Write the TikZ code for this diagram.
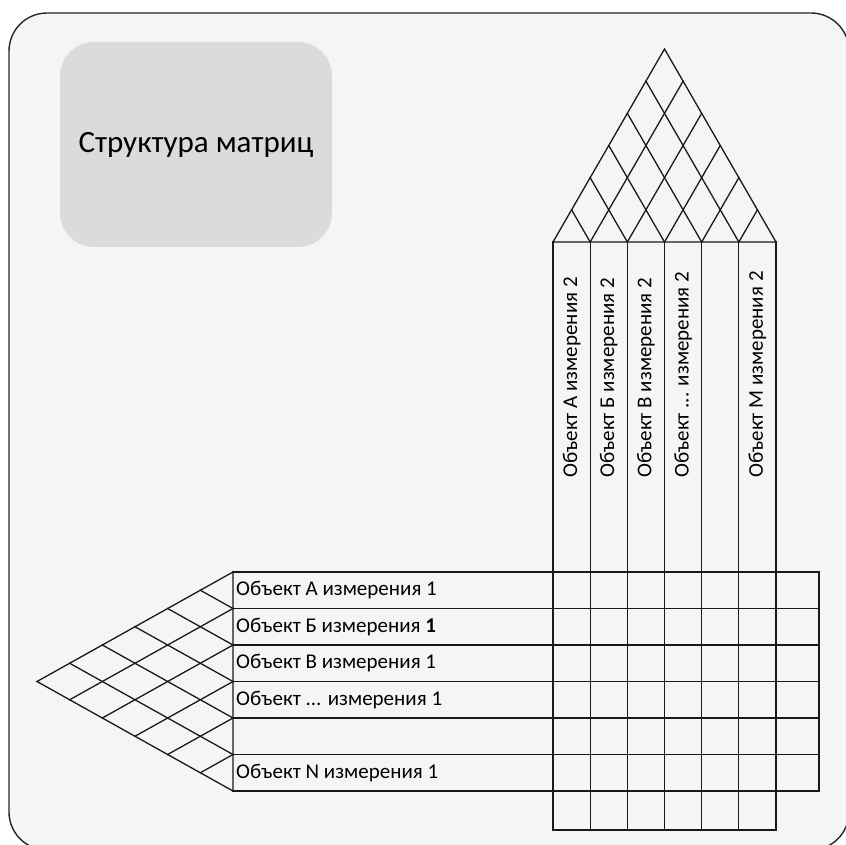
\documentclass[tikz,border=0pt]{standalone}
\usepackage{fontspec}
\setmainfont{Carlito}
\usetikzlibrary{calc}
\newcommand\tdots{...}

\begin{document}
\begin{tikzpicture}[x=1pt,y=-1pt,
  frame/.style={draw=black!85,line width=1.4pt,fill=black!4,rounded corners=38pt},
  titlebox/.style={fill=black!14,rounded corners=34pt,minimum width=272pt,minimum height=205pt,font=\fontsize{31}{36}\selectfont},
  grid/.style={line width=1.3pt,black!90,line cap=rect},
  rowlbl/.style={anchor=west,inner sep=0pt,font=\fontsize{21}{25}\selectfont},
  collbl/.style={rowlbl,rotate=90}]
\clip (0,0) rectangle (846,845);
\draw[frame] (9,13) rectangle (849,850);
\node[titlebox] (title) at (196,144.5) {Структура матриц};
% corner points of the two lattices
\coordinate (topL) at (553,242);
\coordinate (topR) at (776,242);
\coordinate (topA) at (664.5,49);
\coordinate (sideT) at (233,572);
\coordinate (sideB) at (233,791);
\coordinate (sideA) at (37,681.5);
\draw[grid] (topL)--(topA)--(topR)--cycle;
\draw[grid] (sideT)--(sideA)--(sideB)--cycle;
\foreach \i in {1,...,5}{
  \draw[grid] ($(topL)!\i/6!(topR)$)--($(topL)!\i/6!(topA)$);
  \draw[grid] ($(topR)!\i/6!(topL)$)--($(topR)!\i/6!(topA)$);
  \draw[grid] ($(sideT)!\i/6!(sideB)$)--($(sideT)!\i/6!(sideA)$);
  \draw[grid] ($(sideB)!\i/6!(sideT)$)--($(sideB)!\i/6!(sideA)$);
}
% matrix grid
\foreach \j in {0,...,6}
  \draw[grid] ({553+\j*223/6},242)--({553+\j*223/6},830);
\foreach \k in {0,...,6}
  \draw[grid] (233,{572+\k*36.5})--(819,{572+\k*36.5});
\draw[grid] (819,572)--(819,791);
\draw[grid] (553,830)--(776,830);
% labels
\foreach \lbl [count=\k] in {Объект A измерения 1,Объект Б измерения \textbf{1},Объект В измерения 1,Объект \tdots{} измерения 1,{},Объект N измерения 1}
  \node[rowlbl] (row\k) at (236,{572+(\k-0.5)*36.5}) {\lbl};
\foreach \lbl [count=\k] in {Объект A измерения 2,Объект Б измерения 2,Объект В измерения 2,Объект \tdots{} измерения 2,{},Объект M измерения 2}
  \node[collbl] (col\k) at ({553+(\k-0.5)*223/6},478) {\lbl};
\end{tikzpicture}
\end{document}
